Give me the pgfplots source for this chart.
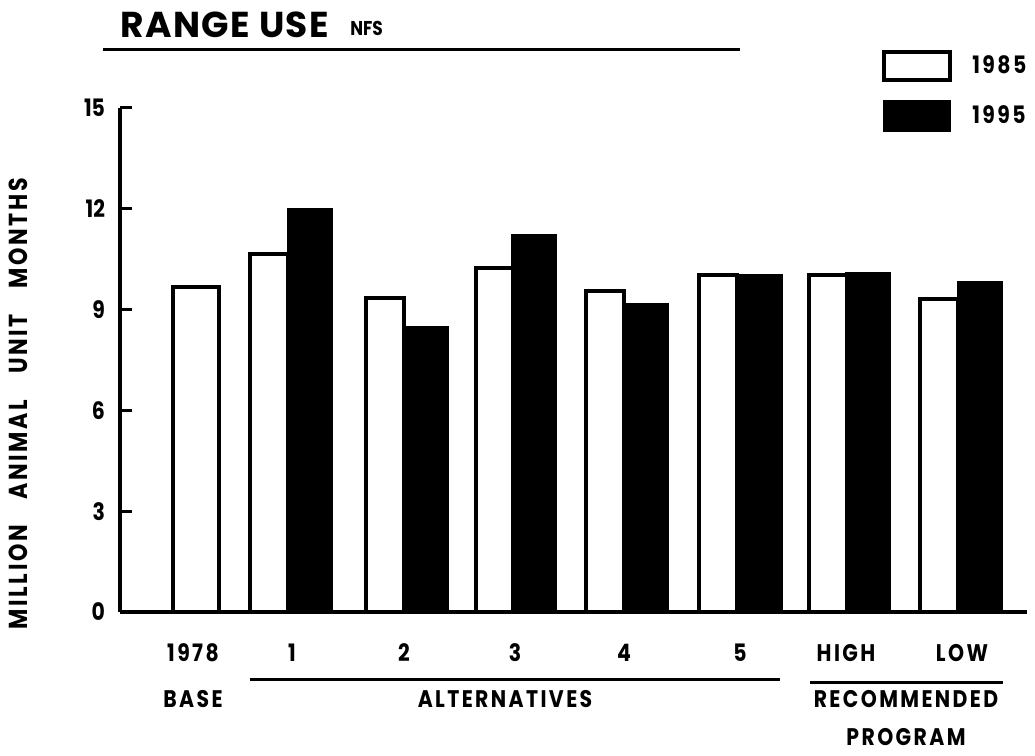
\documentclass[border=0pt]{standalone}
\usepackage{fontspec}
\setmainfont{Poppins}[FakeStretch=0.85]
\newfontfamily\titlefont{Poppins}[LetterSpace=4]
\newfontfamily\widefont{Poppins}[FakeStretch=0.85, LetterSpace=10]
\usepackage{pgfplots}
\pgfplotsset{compat=1.18}
\begin{document}
\begin{tikzpicture}
\begin{axis}[
  scale only axis, width=453.5pt, height=252pt,
  xmin=120, xmax=1027, ymin=0, ymax=15,
  axis lines=left, axis line style={-, line width=1.8pt},
  clip=false,
  ytick={0,3,6,9,12,15},
  ytick style={line width=1.5pt, black},
  tick align=inside,
  major tick length=6pt,
  xtick={193,292,404,515,624,740,846,962},
  xticklabels={1978,1,2,3,4,5,HIGH,LOW},
  xtick style={draw=none},
  xticklabel style={anchor=base, yshift=-25pt, font=\widefont\bfseries\fontsize{12}{14}\selectfont},
  yticklabel style={xshift=-4pt, font=\bfseries\fontsize{12}{14}\selectfont},
  /pgf/number format/assume math mode=true,
  legend style={at={(axis cs:882,16.73)}, anchor=north west, draw=none, fill=none,
    inner sep=0pt, row sep=9pt, font=\widefont\bfseries\fontsize{12}{14}\selectfont,
    /tikz/every odd column/.append style={column sep=8pt}},
  legend cell align=left,
]
\addplot[ybar, bar shift=0pt, bar width=46, draw=black, fill=white, line width=2pt, forget plot]
  coordinates {(196,9.67)};
\addplot[ybar, bar shift=0pt, bar width=38, draw=black, fill=white, line width=2pt,
  legend image code/.code={\draw[black, fill=white, line width=2pt] (0pt,-7pt) rectangle (33pt,7pt);}]
  coordinates {(269,10.65) (385,9.35) (495,10.24) (605,9.55) (718,10.03) (828,10.03) (939,9.32)};
\addlegendentry{1985}
\addplot[ybar, bar shift=0pt, bar width=44, draw=black, fill=black, line width=1pt,
  legend image code/.code={\draw[black, fill=black, line width=1pt] (0pt,-7.5pt) rectangle (33pt,7.5pt);}]
  coordinates {(310,11.99) (426,8.48) (534,11.22) (646,9.17) (760,10.03) (868,10.09) (980,9.82)};
\addlegendentry{1995}
% title
\node[anchor=base west, font=\titlefont\bfseries\fontsize{18}{20}\selectfont, inner sep=0pt] at (axis cs:120,17.11) {RANGE USE};
\node[anchor=base west, font=\bfseries\fontsize{10}{12}\selectfont, inner sep=0pt] at (axis cs:350,17.17) {NFS};
\draw[line width=1.5pt] (axis cs:103,16.73) -- (axis cs:740,16.73);
% y label
\node[rotate=90, font=\widefont\bfseries\fontsize{13}{15}\selectfont] at (axis cs:18,6.2) {MILLION\hspace{1em}ANIMAL\hspace{1em}UNIT\hspace{1em}MONTHS};
% group labels
\draw[line width=1.5pt] (axis cs:250,-2.02) -- (axis cs:780,-2.02);
\draw[line width=1.5pt] (axis cs:810,-2.1) -- (axis cs:1003,-2.1);
\node[anchor=base, font=\widefont\bfseries\fontsize{12}{14}\selectfont, inner sep=0pt] at (axis cs:193,-2.83) {BASE};
\node[anchor=base, font=\widefont\bfseries\fontsize{12}{14}\selectfont, inner sep=0pt] at (axis cs:505,-2.83) {ALTERNATIVES};
\node[anchor=base, font=\widefont\bfseries\fontsize{12}{14}\selectfont, inner sep=0pt] at (axis cs:906,-2.83) {RECOMMENDED};
\node[anchor=base, font=\widefont\bfseries\fontsize{12}{14}\selectfont, inner sep=0pt] at (axis cs:906,-3.98) {PROGRAM};
% bounding box
\path (axis cs:0,18.214) rectangle (axis cs:1035,-4.286);
\end{axis}
\end{tikzpicture}
\end{document}
